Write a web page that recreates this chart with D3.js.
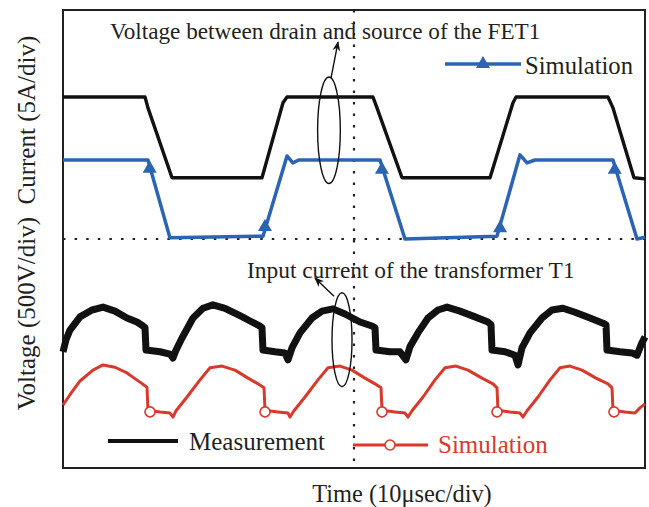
<!DOCTYPE html>
<html><head><meta charset="utf-8">
<script src="https://cdn.jsdelivr.net/npm/d3@7"></script>
<style>html,body{margin:0;padding:0;background:#fff;}svg{display:block;}</style>
</head><body>
<svg id="chart" width="649" height="507"></svg>
<script>
// ---- Data (time in µs, 10 µs/div; vertical in scope divisions, 0 = centre) ----
const voltMeasT = [0,14.09,14.6,18.73,34.19,37.8,38.49,53.26,53.95,58.25,73.37,77.32,77.84,93.64,94.5,98.11,100];
const voltMeasV = [2.48,2.48,2.29,1.07,1.07,2.38,2.48,2.48,2.29,1.07,1.07,2.38,2.48,2.48,2.29,1.07,1.05];

const voltSimT = [0,14.6,18.38,34.36,38.49,39.5,40.5,54.47,58.76,74.57,78.52,79.73,81.1,94.5,98.63,100];
const voltSimV = [1.38,1.38,0.02,0.05,1.45,1.33,1.38,1.38,0.0,0.05,1.47,1.33,1.38,1.38,0.0,0.03];
const voltSimMarkT = [14.9,34.7,54.8,75.1,94.8];
const voltSimMarkV = [1.23,0.21,1.21,0.19,1.21];

const curMeasT = [0,0.52,1.2,2.92,4.98,6.87,8.93,10.99,12.71,13.75,14.09,14.26,16.67,18.38,18.9,19.42,20.45,22.34,24.05,25.77,27.84,30.41,32.47,33.85,34.19,34.36,36.43,38.14,38.66,39.35,40.72,42.78,44.5,46.39,48.45,51.03,53.09,53.61,53.78,56.19,57.9,58.93,59.62,60.99,62.71,64.43,65.98,68.21,70.79,73.02,73.54,73.71,75.95,77.66,78.18,78.87,80.24,82.3,84.02,85.91,87.97,90.55,92.78,93.3,93.47,95.7,97.77,98.63,99.31,100];
const curMeasV = [-1.97,-1.76,-1.59,-1.36,-1.24,-1.19,-1.26,-1.38,-1.45,-1.52,-1.55,-1.94,-1.97,-2.01,-2.08,-1.94,-1.73,-1.38,-1.21,-1.15,-1.21,-1.34,-1.45,-1.52,-1.55,-1.94,-1.97,-1.99,-2.11,-1.9,-1.64,-1.38,-1.26,-1.22,-1.31,-1.45,-1.52,-1.55,-1.94,-1.97,-1.97,-2.11,-1.88,-1.64,-1.38,-1.24,-1.19,-1.26,-1.36,-1.45,-1.5,-1.94,-1.97,-2.03,-2.2,-1.9,-1.64,-1.38,-1.24,-1.21,-1.28,-1.38,-1.47,-1.5,-1.94,-1.97,-1.99,-2.03,-1.85,-1.71];

const curSimT = [0,1.2,2.92,5.15,6.87,8.93,10.99,13.23,14.43,14.6,16.67,18.38,18.9,19.42,21.31,23.54,25.26,27.32,29.55,31.79,33.51,34.54,34.71,36.94,38.66,39.0,39.69,41.58,43.81,45.53,47.59,49.66,51.89,53.61,54.64,54.81,57.04,58.76,59.28,59.97,61.86,63.92,65.64,67.53,69.59,71.99,73.88,74.57,74.74,76.8,78.52,79.04,79.73,81.62,83.68,85.4,87.11,89.18,91.58,93.64,94.33,94.5,96.56,98.28,99.14,100];
const curSimV = [-2.9,-2.72,-2.48,-2.29,-2.2,-2.24,-2.34,-2.5,-2.59,-2.99,-3.02,-3.04,-3.11,-3.0,-2.76,-2.46,-2.25,-2.22,-2.29,-2.43,-2.53,-2.6,-2.99,-3.02,-3.04,-3.11,-3.0,-2.76,-2.46,-2.25,-2.22,-2.29,-2.43,-2.53,-2.6,-2.99,-3.02,-3.04,-3.11,-3.0,-2.76,-2.46,-2.25,-2.22,-2.29,-2.43,-2.53,-2.6,-2.99,-3.02,-3.04,-3.11,-3.0,-2.76,-2.46,-2.25,-2.22,-2.29,-2.43,-2.53,-2.6,-2.99,-3.02,-3.04,-2.95,-2.88];
const curSimMarkT = [14.95,34.71,54.81,74.57,94.67];
const curSimMarkV = [-3.02,-3.02,-3.02,-3.02,-3.02];

// annotation ellipses: [centre time, centre div, radius µs, radius div]
const ellipseTop = [45.7,1.9,1.95,0.93];
const ellipseBottom = [47.94,-1.76,1.72,0.82];
const arrowTop = [[46.05,2.81],[47.25,3.44]];
const arrowBottom = [[46.56,-1.0],[43.3,-0.68]];

const labels = {
  title: "Voltage between drain and source of the FET1",
  input: "Input current of the transformer T1",
  sim: "Simulation",
  meas: "Measurement",
  x: "Time (10\u03bcsec/div)",
  y: "Voltage (500V/div)\u00a0\u00a0Current (5A/div)"
};

// ---- Drawing ----
const svg = d3.select("#chart");
const FONT = "'Liberation Serif','Times New Roman',serif";
const TXT = "#231f20";
const BLUE = "#2c63b2";
const RED = "#d7392c";
const x = d3.scaleLinear().domain([0,100]).range([63,645]);
const y = d3.scaleLinear().domain([-4,4]).range([468,10]);
const zip = (a,b) => a.map((v,i)=>[v,b[i]]);
const line = d3.line().x(d=>x(d[0])).y(d=>y(d[1]));

// graticule centre lines (dotted)
svg.append("line").attr("x1",x(0)).attr("x2",x(100)).attr("y1",y(0)).attr("y2",y(0))
  .attr("stroke","#222").attr("stroke-width",2.2).attr("stroke-dasharray","2.5,9.1");
svg.append("line").attr("x1",x(50)).attr("x2",x(50)).attr("y1",y(4)).attr("y2",y(-4))
  .attr("stroke","#222").attr("stroke-width",2.2).attr("stroke-dasharray","2.5,9");

// frame
svg.append("rect").attr("x",x(0)).attr("y",y(4)).attr("width",x(100)-x(0)).attr("height",y(-4)-y(4))
  .attr("fill","none").attr("stroke","#222").attr("stroke-width",2);

// traces
svg.append("path").datum(zip(voltMeasT,voltMeasV)).attr("d",line)
  .attr("fill","none").attr("stroke","#111").attr("stroke-width",3.4).attr("stroke-linejoin","round");
svg.append("path").datum(zip(curMeasT,curMeasV)).attr("d",line)
  .attr("fill","none").attr("stroke","#111").attr("stroke-width",7).attr("stroke-linejoin","round");
svg.append("path").datum(zip(voltSimT,voltSimV)).attr("d",line)
  .attr("fill","none").attr("stroke",BLUE).attr("stroke-width",3.5).attr("stroke-linejoin","round");
svg.append("path").datum(zip(curSimT,curSimV)).attr("d",line)
  .attr("fill","none").attr("stroke",RED).attr("stroke-width",3).attr("stroke-linejoin","round");

const tri = d3.symbol().type(d3.symbolTriangle).size(85);
svg.selectAll(".tri").data(zip(voltSimMarkT,voltSimMarkV)).join("path")
  .attr("transform",d=>`translate(${x(d[0])},${y(d[1])})`).attr("d",tri).attr("fill",BLUE);
svg.selectAll(".circ").data(zip(curSimMarkT,curSimMarkV)).join("circle")
  .attr("cx",d=>x(d[0])).attr("cy",d=>y(d[1])).attr("r",5)
  .attr("fill","#fff").attr("stroke",RED).attr("stroke-width",1.6);

// annotations
svg.append("defs").append("marker").attr("id","ah").attr("viewBox","0 0 10 10")
  .attr("refX",9).attr("refY",5).attr("markerWidth",7).attr("markerHeight",7).attr("orient","auto")
  .append("path").attr("d","M0,1 L10,5 L0,9 L3,5 Z").attr("fill","#111");
[ellipseTop,ellipseBottom].forEach(e=>{
  svg.append("ellipse").attr("cx",x(e[0])).attr("cy",y(e[1]))
    .attr("rx",x(e[2])-x(0)).attr("ry",y(0)-y(e[3]))
    .attr("fill","none").attr("stroke","#111").attr("stroke-width",1.4);
});
[arrowTop,arrowBottom].forEach(a=>{
  svg.append("line").attr("x1",x(a[0][0])).attr("y1",y(a[0][1])).attr("x2",x(a[1][0])).attr("y2",y(a[1][1]))
    .attr("stroke","#111").attr("stroke-width",1.4).attr("marker-end","url(#ah)");
});

const T = (txt,px,py,opts={}) => svg.append("text").text(txt).attr("x",px).attr("y",py)
  .attr("font-family",FONT).attr("font-size",opts.size||23).attr("fill",opts.fill||TXT)
  .attr("text-anchor",opts.anchor||"start");

T(labels.title,110,39,{size:23.2});
T(labels.input,247,278,{size:23.4});

// top legend
svg.append("line").attr("x1",445).attr("x2",521).attr("y1",64).attr("y2",64).attr("stroke",BLUE).attr("stroke-width",3.5);
svg.append("path").attr("transform","translate(483,64)").attr("d",tri).attr("fill",BLUE);
T(labels.sim,525,74,{size:24.6});

// bottom legend
svg.append("line").attr("x1",108).attr("x2",178).attr("y1",441).attr("y2",441).attr("stroke","#111").attr("stroke-width",4);
T(labels.meas,189,450,{size:25});
svg.append("line").attr("x1",353).attr("x2",428).attr("y1",445).attr("y2",445).attr("stroke",RED).attr("stroke-width",3);
svg.append("circle").attr("cx",390).attr("cy",445).attr("r",5).attr("fill","#fff").attr("stroke",RED).attr("stroke-width",1.6);
T(labels.sim,438,453,{fill:RED,size:25});

// axis titles
T(labels.x,402,502,{anchor:"middle",size:24.4});
T(labels.y,0,0,{anchor:"middle",size:25}).attr("transform","translate(35,223) rotate(-90)");
</script>
</body></html>
